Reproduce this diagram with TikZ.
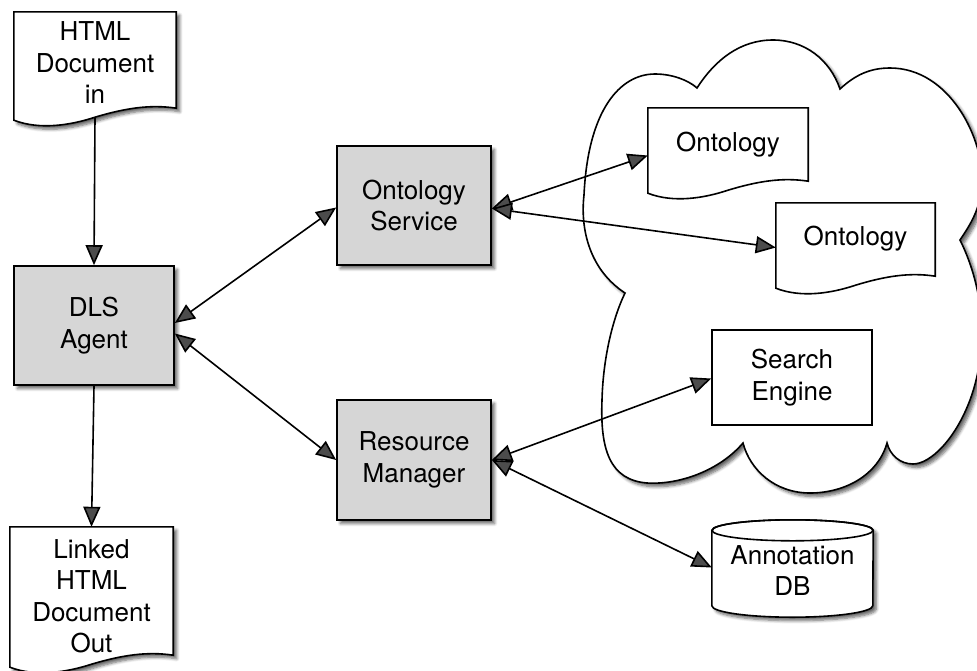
\documentclass[tikz,border=0pt]{standalone}
\usepackage{fontspec}
\setmainfont{TeX Gyre Heros}
\usetikzlibrary{arrows.meta,calc,shadows,shadows.blur}

\definecolor{boxgray}{RGB}{214,214,214}

\tikzset{
  lbl/.style={font=\fontsize{26}{31.5}\selectfont, align=center, inner sep=0pt},
  softshadow/.style={blur shadow={shadow xshift=3.5pt, shadow yshift=-3.5pt,
      shadow blur radius=3pt, shadow blur steps=6, shadow opacity=60}},
  graybox/.style={lbl, draw, line width=1.7pt, fill=boxgray, softshadow},
  plainbox/.style={lbl, draw, line width=1.6pt, fill=white},
  outline/.style={line width=1.6pt, fill=white},
  link/.style={line width=1.6pt},
  >={Triangle[length=20pt,width=17pt]},
}

% document symbol with a wavy lower edge, drawn round a named node
\newcommand\drawdoc[2][]{%
  \draw[outline,#1] (#2.north west) -- (#2.north east) -- ($(#2.south east)+(0,-12)$)
    .. controls ($(#2.south west)!0.84!(#2.south east)+(0,-16)$)
           and ($(#2.south west)!0.685!(#2.south east)+(0,-12)$)
    .. ($(#2.south west)!0.5!(#2.south east)+(0,-3)$)
    .. controls ($(#2.south west)!0.35!(#2.south east)+(0,5)$)
           and ($(#2.south west)!0.16!(#2.south east)+(0,10)$)
    .. (#2.south west) -- cycle;}

\begin{document}
\begin{tikzpicture}[x=1pt,y=-1pt]
\useasboundingbox (0,0) rectangle (977,670);
\clip (0,0) rectangle (977,670);

% the cloud of remote resources
\draw[outline, softshadow]
  (625,293) .. controls (590,270) and (580,230) .. (584,195)
  .. controls (588,110) and (620,74) .. (655,74)
  .. controls (672,74) and (688,80) .. (697,88)
  .. controls (715,60) and (740,40) .. (773,40)
  .. controls (805,40) and (830,60) .. (840,89)
  .. controls (855,75) and (870,68) .. (890,68)
  .. controls (950,68) and (985,140) .. (982,185)
  .. controls (980,210) and (970,225) .. (960,240)
  .. controls (980,280) and (992,340) .. (970,400)
  .. controls (955,440) and (930,464) .. (913,464)
  .. controls (900,464) and (890,455) .. (887,443)
  .. controls (878,475) and (845,493) .. (810,493)
  .. controls (775,493) and (750,470) .. (743,443)
  .. controls (720,470) and (680,485) .. (647,483)
  .. controls (610,480) and (600,450) .. (602,400)
  .. controls (603,360) and (612,320) .. (625,293) -- cycle;

% documents: text nodes, outlines drawn round them
\node[lbl, minimum width=162pt, minimum height=108pt] (html) at (95,66) {};
\drawdoc[softshadow]{html}
\node[lbl] at ($(html)+(0,-3)$) {HTML\\Document\\in};

\node[lbl, minimum width=163pt, minimum height=140pt] (linked) at (91.5,597) {};
\drawdoc[softshadow]{linked}
\node[lbl] at ($(linked)+(0,-1)$) {Linked\\HTML\\Document\\Out};

\node[lbl, minimum width=160pt, minimum height=85pt] (ont1) at (728,150.5) {};
\drawdoc{ont1}
\node[lbl] at ($(ont1)+(0,-6)$) {Ontology};

\node[lbl, minimum width=159pt, minimum height=85pt] (ont2) at (855.5,245.5) {};
\drawdoc{ont2}
\node[lbl] at ($(ont2)+(0,-7)$) {Ontology};

% process boxes
\node[graybox, minimum width=160pt, minimum height=119pt] (dls) at (94,325.5) {DLS\\Agent};
\node[graybox, minimum width=154pt, minimum height=119pt] (os) at (414,205.5) {Ontology\\Service};
\node[graybox, minimum width=154pt, minimum height=120pt] (rm) at (414,460) {Resource\\Manager};

\node[plainbox, minimum width=160pt, minimum height=95pt] (se) at (792,377.5) {Search\\Engine};

% annotation database cylinder
\node[lbl, minimum width=161pt, minimum height=97pt] (db) at (792.5,568.5) {};
\draw[outline, softshadow]
  ($(db.north west)+(0,10.5)$) -- ($(db.south west)+(0,-11.5)$)
  arc[start angle=180, end angle=360, x radius=80.5pt, y radius=11.5pt]
  -- ($(db.north east)+(0,10.5)$)
  arc[start angle=0, end angle=180, x radius=80.5pt, y radius=10.5pt] -- cycle;
\draw[line width=1.6pt] ($(db.north)+(0,10.5)$) ellipse[x radius=80.5pt, y radius=10.5pt];
\node[lbl] at ($(db)+(0,2)$) {Annotation\\DB};

% connectors
\draw[link,->] ($(html.south)+(0,-3)$) -- (dls.north);
\draw[link,->] (dls.south) -- (linked.north);
\draw[link,<->] ([yshift=2.5pt]dls.east) -- ([yshift=-2pt]os.west);
\draw[link,<->] ([yshift=-8pt]dls.east) -- (rm.west);
\draw[link,<->] ([yshift=-3pt]os.east) -- ([yshift=-5pt]ont1.west);
\draw[link,<->] ([yshift=-3pt]os.east) -- ([yshift=-2pt]ont2.west);
\draw[link,<->] (rm.east) -- ([yshift=-1pt]se.west);
\draw[link,<->] (rm.east) -- ([yshift=1pt]db.west);
\end{tikzpicture}
\end{document}
